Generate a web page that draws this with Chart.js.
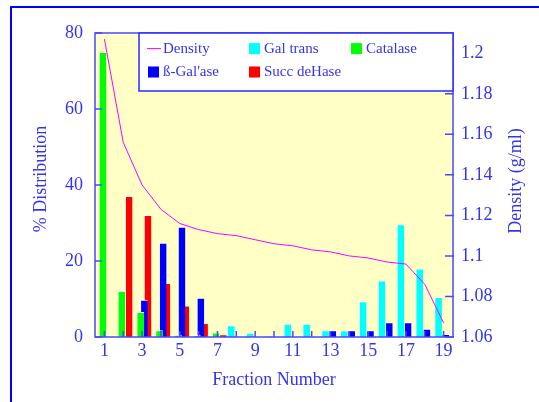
<!DOCTYPE html>
<html>
<head>
<meta charset="utf-8">
<style>
  html, body { margin: 0; padding: 0; background: #fff; }
</style>
</head>
<body>
<canvas id="fracChart" width="539" height="402"></canvas>
<script src="https://cdn.jsdelivr.net/npm/chart.js@4/dist/chart.umd.min.js"></script>
<script>
// gradient fractions
const fractions = [1, 2, 3, 4, 5, 6, 7, 8, 9, 10, 11, 12, 13, 14, 15, 16, 17, 18, 19];
const shownFractions = [1, 3, 5, 7, 9, 11, 13, 15, 17, 19];

// % distribution of each marker enzyme
const galTrans   = [0, 0, 0, 0, 0, 0, 0, 3.1, 1.1, 0.3, 3.5, 3.5, 1.8, 1.8, 9.4, 14.9, 29.7, 18, 10.5];
const catalase   = [75, 12.1, 6.6, 1.8, 0.6, 0.5, 1.2, 0, 0, 0, 0, 0, 0, 0, 0, 0, 0, 0, 0];
const betaGal    = [0, 0, 9.8, 24.8, 29, 10.3, 0, 0, 0, 0, 0, 0, 1.8, 1.8, 1.8, 3.9, 3.9, 2.2, 0.8];
const succDeHase = [0, 37.1, 32.1, 14.2, 8.3, 3.7, 0.7, 0, 0, 0, 0, 0, 0, 0, 0, 0, 0, 0, 0];

// gradient density, g/ml
const density = [1.207, 1.156, 1.135, 1.123, 1.116, 1.113, 1.111, 1.110, 1.108, 1.106,
                 1.105, 1.103, 1.102, 1.100, 1.099, 1.097, 1.096, 1.086, 1.067];

const distTicks = [0, 20, 40, 60, 80];
const densityTicks = [1.06, 1.08, 1.1, 1.12, 1.14, 1.16, 1.18, 1.2];

const FONT = "'Liberation Serif', 'Times New Roman', serif";
const TEXT = '#3434ee';
const AXIS = '#4848ff';

// frame, plot box, inward ticks, legend and the vertical titles
const decor = {
  id: 'decor',
  beforeDraw(chart) {
    const {ctx, chartArea: a} = chart;
    ctx.save();
    ctx.strokeStyle = '#0000ff';
    ctx.lineWidth = 2;
    ctx.beginPath();
    ctx.moveTo(11, chart.height);
    ctx.lineTo(11, 7);
    ctx.lineTo(chart.width, 7);
    ctx.stroke();
    ctx.fillStyle = '#ffffc6';
    ctx.fillRect(a.left, a.top, a.right - a.left, a.bottom - a.top);
    ctx.restore();
  },
  afterDatasetsDraw(chart) {
    const {ctx, chartArea: a, scales} = chart;
    ctx.save();
    ctx.strokeStyle = AXIS;
    ctx.lineWidth = 1.5;
    ctx.beginPath();
    scales.x.ticks.forEach((t, i) => {
      const px = scales.x.getPixelForTick(i);
      ctx.moveTo(px, a.bottom);
      ctx.lineTo(px, a.bottom - 6);
    });
    scales.y.ticks.forEach((t, i) => {
      const py = scales.y.getPixelForTick(i);
      ctx.moveTo(a.left, py);
      ctx.lineTo(a.left + 7, py);
    });
    scales.y2.ticks.forEach((t, i) => {
      const py = scales.y2.getPixelForTick(i);
      ctx.moveTo(a.right + 1, py);
      ctx.lineTo(a.right - 8, py);
    });
    ctx.stroke();
    ctx.strokeRect(a.left, a.top, a.right - a.left, a.bottom - a.top);

    // legend box
    const lx = a.left + 44, ly = a.top, lw = a.right - lx, lh = 58;
    ctx.fillStyle = '#fff';
    ctx.fillRect(lx, ly, lw, lh);
    ctx.strokeStyle = '#2a2aff';
    ctx.strokeRect(lx, ly, lw, lh);
    const ds = chart.data.datasets;
    const order = [4, 0, 1, 2, 3];
    const colX = [lx + 9, lx + 110, lx + 212];
    const rowY = [ly + 15.6, ly + 39];
    ctx.font = '15px ' + FONT;
    ctx.textBaseline = 'middle';
    order.forEach((di, k) => {
      const x = colX[k % 3], y = rowY[Math.floor(k / 3)];
      const d = ds[di];
      if (d.type === 'line') {
        ctx.strokeStyle = d.borderColor;
        ctx.lineWidth = 1;
        ctx.beginPath();
        ctx.moveTo(x - 1, y);
        ctx.lineTo(x + 13, y);
        ctx.stroke();
        ctx.fillStyle = TEXT;
        ctx.fillText(d.label, x + 15, y);
      } else {
        ctx.fillStyle = d.backgroundColor;
        ctx.fillRect(x, y - 5.5, 11, 11);
        ctx.fillStyle = TEXT;
        ctx.fillText(d.label, x + 15, y);
      }
    });

    // axis titles reading bottom to top
    ctx.font = '18px ' + FONT;
    ctx.fillStyle = TEXT;
    ctx.textAlign = 'center';
    ctx.textBaseline = 'middle';
    [['% Distribution', 41, 179], ['Density (g/ml)', 516, 181]].forEach(([txt, x, y]) => {
      ctx.save();
      ctx.translate(x, y);
      ctx.rotate(-Math.PI / 2);
      ctx.fillText(txt, 0, 0);
      ctx.restore();
    });
    ctx.restore();
  }
};

const barStyle = {
  borderColor: '#ffffff',
  borderWidth: {top: 1, left: 1, right: 0, bottom: 0},
  borderSkipped: false,
  categoryPercentage: 0.775,
  barPercentage: 2.1,
  yAxisID: 'y'
};

new Chart(document.getElementById('fracChart'), {
  data: {
    labels: fractions,
    datasets: [
      {type: 'bar', label: 'Gal trans', data: galTrans, backgroundColor: '#00ffff', ...barStyle},
      {type: 'bar', label: 'Catalase', data: catalase, backgroundColor: '#00ff00', ...barStyle},
      {type: 'bar', label: "ß-Gal'ase", data: betaGal, backgroundColor: '#0000ff', ...barStyle},
      {type: 'bar', label: 'Succ deHase', data: succDeHase, backgroundColor: '#ff0000', ...barStyle},
      {type: 'line', label: 'Density', data: density, borderColor: '#ff00ff', borderWidth: 1,
       pointRadius: 0, tension: 0, yAxisID: 'y2', order: -1}
    ]
  },
  options: {
    responsive: false,
    animation: false,
    layout: {padding: {top: 33, left: 0, right: 0, bottom: 0}},
    plugins: {legend: {display: false}, tooltip: {enabled: false}},
    scales: {
      x: {
        grid: {display: false, drawTicks: false, tickLength: 0},
        border: {display: false},
        ticks: {
          autoSkip: false, maxRotation: 0, padding: 3, color: TEXT,
          font: {family: FONT, size: 18},
          callback(v, i) { return shownFractions.includes(fractions[i]) ? String(fractions[i]) : ''; }
        },
        title: {display: true, text: 'Fraction Number', color: TEXT,
                font: {family: FONT, size: 18}, padding: {top: 0, bottom: 11}},
        afterFit(s) { s.height = 65; }
      },
      y: {
        position: 'left', min: 0, max: 80,
        grid: {display: false, drawTicks: false, tickLength: 0},
        border: {display: false},
        afterBuildTicks(s) { s.ticks = distTicks.map(v => ({value: v})); },
        ticks: {padding: 12, color: TEXT, font: {family: FONT, size: 18}},
        afterFit(s) { s.width = 95; }
      },
      y2: {
        position: 'right', min: 1.06, max: 1.21,
        grid: {display: false, drawTicks: false, tickLength: 0},
        border: {display: false},
        afterBuildTicks(s) { s.ticks = densityTicks.map(v => ({value: v})); },
        ticks: {padding: 8, color: TEXT, font: {family: FONT, size: 18},
                callback(v) { return String(v); }},
        afterFit(s) { s.width = 86; }
      }
    }
  },
  plugins: [decor]
});
</script>
</body>
</html>
